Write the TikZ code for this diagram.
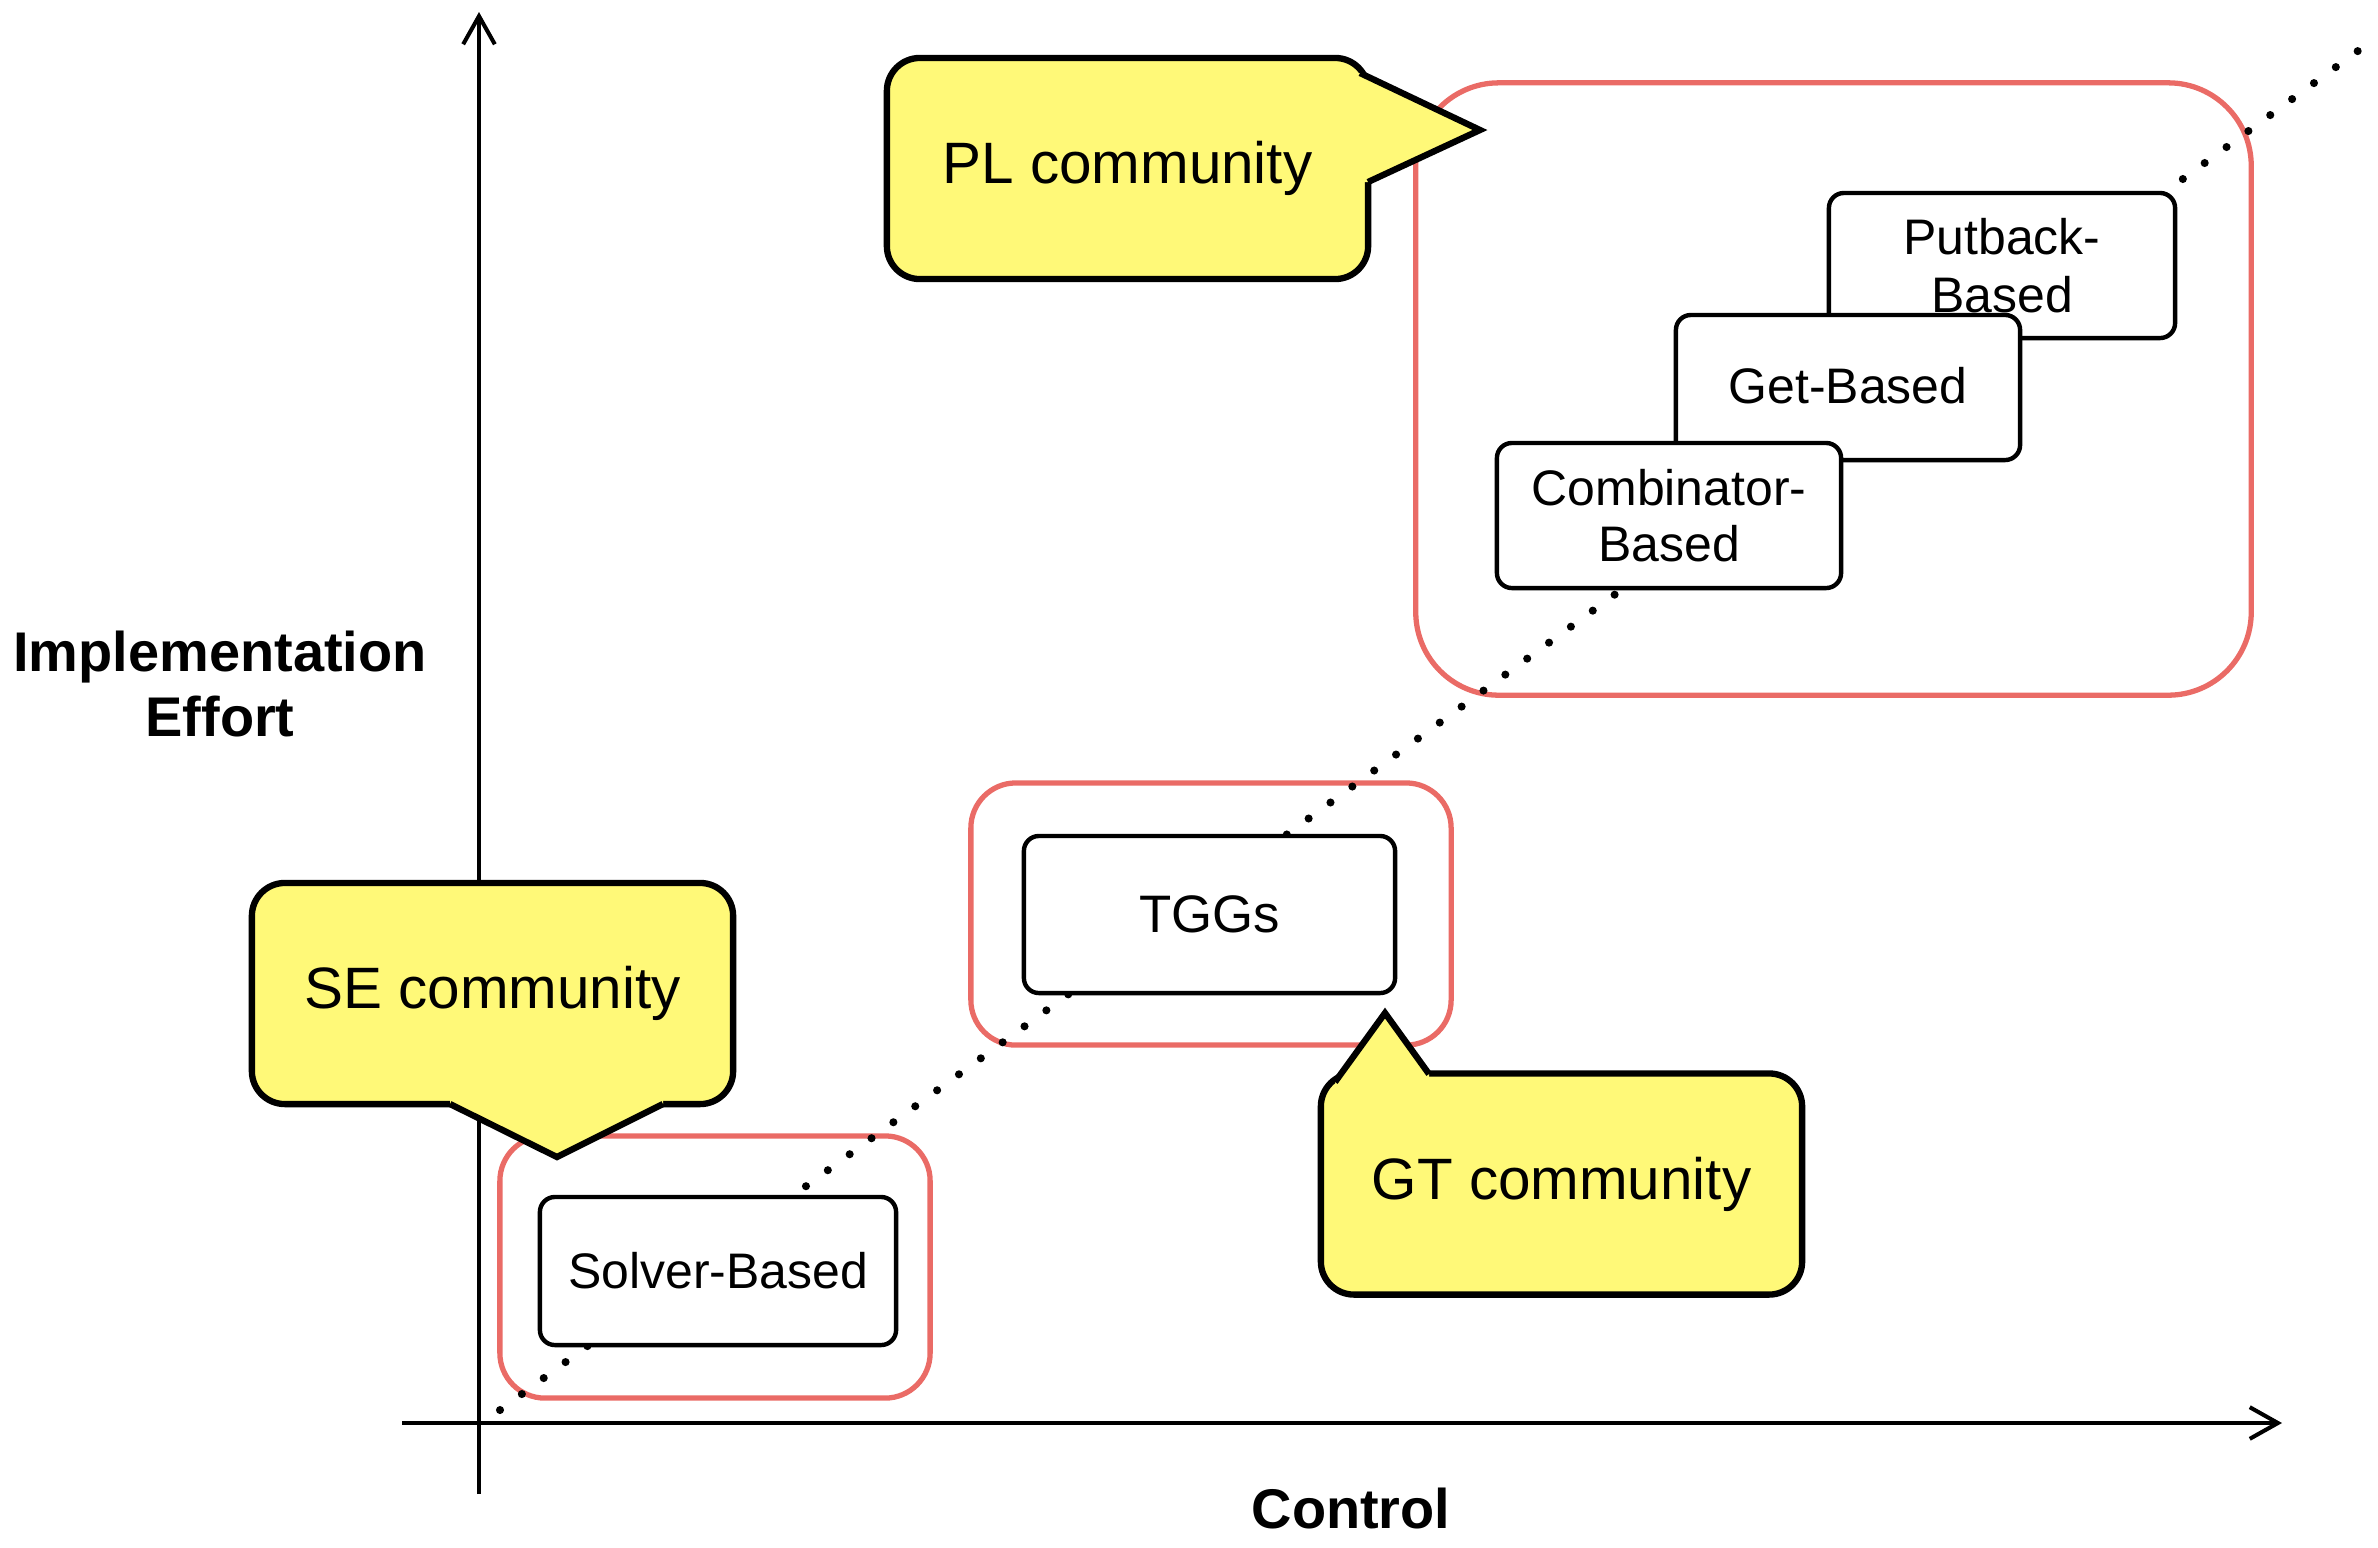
\documentclass[tikz,border=0pt]{standalone}
\usepackage{fontspec}
\setmainfont{Liberation Sans}
\usetikzlibrary{arrows.meta}
\definecolor{redc}{HTML}{EA6B66}
\definecolor{yel}{HTML}{FFF978}
\begin{document}
\begin{tikzpicture}[x=0.01cm,y=-0.01cm,
  redbox/.style={draw=redc, line width=1.5pt, rounded corners=0.45cm, inner sep=0pt},
  wbox/.style={draw=black, fill=white, line width=1.25pt, rounded corners=0.15cm, inner sep=0pt, align=center, font=\fontsize{14.2}{15.6}\selectfont},
  callout/.style={draw=black, fill=yel, line width=1.8pt, rounded corners=0.33cm, inner sep=0pt, minimum width=4.81cm, minimum height=2.21cm, font=\fontsize{16.6}{20}\selectfont},
  ptr/.style={draw=black, line width=1.8pt, line join=miter},
  axis/.style={line width=1.15pt, -{Straight Barb[length=8pt,width=9pt]}},
  axlabel/.style={font=\fontsize{15.9}{18.5}\selectfont\bfseries, align=center},
  dotline/.style={line width=2.3pt, line cap=round, dash pattern=on 0pt off 7.7pt}]

\useasboundingbox (0,0) rectangle (2378,1547);

% axes
\coordinate (yb) at (479,1494);
\coordinate (yt) at (479,12);
\coordinate (xl) at (402,1423);
\coordinate (xr) at (2282,1423);
\draw[axis] (yb) -- (yt);
\draw[axis] (xl) -- (xr);
\node[axlabel] (ylab) at (220,684) {Implementation\\Effort};
\node[axlabel] (xlab) at (1351,1508) {Control};

% red regions
\node[redbox, minimum width=4.30cm, minimum height=2.62cm] (r1) at (715,1267) {};
\node[redbox, minimum width=4.80cm, minimum height=2.62cm] (r2) at (1211,914) {};
\node[redbox, rounded corners=0.83cm, minimum width=8.35cm, minimum height=6.12cm] (r3) at (1833.5,389) {};

% dotted diagonal
\coordinate (d0) at (500,1410);
\coordinate (d1) at (2366,45);
\draw[dotline] (d0) -- (d1);

% white boxes
\node[wbox, minimum width=3.56cm, minimum height=1.48cm] (solver) at (718,1271) {Solver-Based};
\node[wbox, minimum width=3.71cm, minimum height=1.57cm] (tgg) at (1209.5,914.5) {\fontsize{15}{16}\selectfont TGGs};
\node[wbox, minimum width=3.46cm, minimum height=1.45cm] (putback) at (2002,265.5) {\raisebox{0.8pt}{Putback-}\\Based};
\node[wbox, minimum width=3.44cm, minimum height=1.45cm] (get) at (1848,387.5) {\raisebox{1pt}{Get-Based}};
\node[wbox, minimum width=3.44cm, minimum height=1.45cm] (comb) at (1669,515.5) {\raisebox{0.5pt}{Combinator-}\\Based};

% callouts
\node[callout] (pl) at (1127.5,168.5) {\raisebox{-1.2pt}{PL community}};
\fill[yel] (1340,80) -- (1360,73) -- (1480,130) -- (1368,182) -- (1345,182) -- cycle;
\draw[ptr] (1360,73) -- (1480,130) -- (1368,182);

\node[callout] (se) at (492.5,993.5) {\raisebox{-1.2pt}{SE community}};
\fill[yel] (450,1090) -- (450,1104) -- (557,1157) -- (663,1104) -- (663,1090) -- cycle;
\draw[ptr] (450,1104) -- (557,1157) -- (663,1104);

\node[callout] (gt) at (1561.5,1184) {\raisebox{-1.2pt}{GT community}};
\fill[yel] (1340,1095) -- (1335,1082) -- (1385,1013) -- (1429,1074) -- (1429,1090) -- cycle;
\draw[ptr] (1335,1082) -- (1385,1013) -- (1429,1074);
\end{tikzpicture}
\end{document}
